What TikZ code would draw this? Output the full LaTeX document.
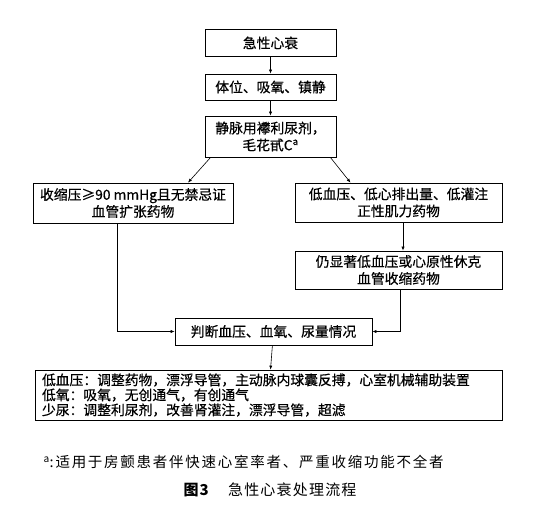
\documentclass[tikz,border=0pt]{standalone}
\usepackage{fontspec}
\setmainfont{Noto Sans CJK SC}
\newfontfamily\boxfont[FakeBold=0.5]{Noto Sans CJK SC}
\newfontfamily\notefont[LetterSpace=12]{Noto Sans CJK SC}
\newfontfamily\capfont[LetterSpace=8]{Noto Sans CJK SC}
\usetikzlibrary{arrows.meta}
\begin{document}
\begin{tikzpicture}[x=1pt,y=-1pt,
  box/.style={draw, line width=0.7pt, inner sep=0pt, align=center,
    font=\boxfont\fontsize{13.8}{17}\selectfont},
  arr/.style={line width=0.6pt, -{Latex[length=4pt,width=3.2pt]}},
  ln/.style={line width=0.6pt}]
\useasboundingbox (0,0) rectangle (552,516);
\node[box, minimum width=131pt, minimum height=27pt] (b1) at (270.5,43) {急性心衰};
\node[box, minimum width=131pt, minimum height=26pt] (b2) at (270.5,87) {体位、吸氧、镇静};
\node[box, minimum width=131pt, minimum height=41pt] (b3) at (270.5,136.5) {静脉用襻利尿剂，\\毛花甙C\textsuperscript{a}};
\node[box, minimum width=200pt, minimum height=40pt] (b4) at (133,203) {收缩压≥90 mmHg且无禁忌证\\血管扩张药物};
\node[box, minimum width=207pt, minimum height=39pt] (b5) at (398.5,202.5) {低血压、低心排出量、低灌注\\正性肌力药物};
\node[box, minimum width=207pt, minimum height=38pt] (b6) at (398.5,270) {仍显著低血压或心原性休克\\血管收缩药物};
\node[box, minimum width=197pt, minimum height=27pt] (b7) at (273.5,331.5) {判断血压、血氧、尿量情况};
\node[box, minimum width=467pt, minimum height=50pt, align=left, text width=453pt,
  font=\boxfont\fontsize{13.8}{15}\selectfont] (b8) at (268.5,395)
  {低血压：调整药物，漂浮导管，主动脉内球囊反搏，心室机械辅助装置\\低氧：吸氧，无创通气，有创通气\\少尿：调整利尿剂，改善肾灌注，漂浮导管，超滤};
\draw[arr] (b1) -- (b2);
\draw[arr] (b2) -- (b3);
\draw[arr] (b3.south west) ++(6,0) -- ([xshift=55pt]b4.north);
\draw[arr] (b3.south east) ++(-6,0) -- ([xshift=-48pt]b5.north);
\draw[arr] ([xshift=4.5pt]b5.south) -- ([xshift=4.5pt]b6.north);
\draw[arr] ([xshift=-16pt]b4.south) |- (b7.west);
\draw[arr] ([xshift=1.5pt]b6.south) |- (b7.east);
\draw[arr] (b7) -- (b8);
\node[font=\notefont\fontsize{14.5}{17}\selectfont, anchor=west] (fn) at (40,462)
  {\textsuperscript{a}:适用于房颤患者伴快速心室率者、严重收缩功能不全者};
\node[font=\capfont\fontsize{15}{17}\selectfont] (cap) at (270,490) {\textbf{图3}\hspace{1.2em}急性心衰处理流程};
\end{tikzpicture}
\end{document}
